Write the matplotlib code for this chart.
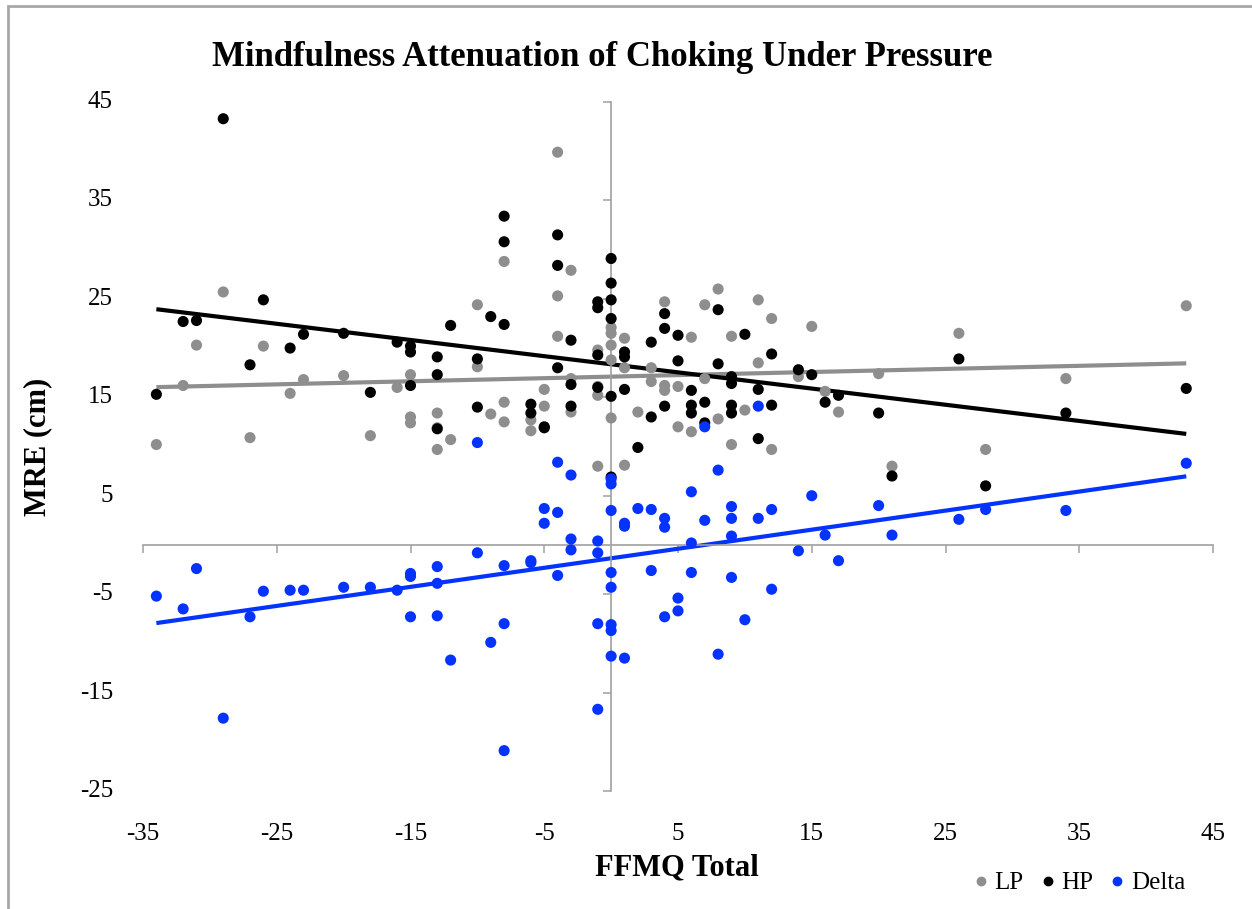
import numpy as np
import matplotlib
matplotlib.use("Agg")
import matplotlib.pyplot as plt
from matplotlib.patches import Rectangle
from matplotlib.lines import Line2D

plt.rcParams['font.family'] = ['Liberation Serif', 'DejaVu Serif']

# FFMQ total (centred) and MRE values
lp_x = [-34, -32, -31, -29, -27, -26, -24, -23, -20, -18, -16, -15, -15, -15, -13, -13, -13, -12,
        -10, -10, -9, -8, -8, -8, -6, -6, -5, -5, -4, -4, -4, -3, -3, -3, -1, -1, -1, -1,
        0, 0, 0, 0, 0, 1, 1, 1, 2, 3, 3, 4, 4, 4, 5, 5, 6, 6, 7, 7, 8, 8, 9, 9, 10,
        11, 11, 12, 12, 14, 15, 16, 17, 20, 21, 26, 28, 34, 43]
lp_y = [10.2, 16.2, 20.3, 25.7, 10.9, 20.2, 15.4, 16.8, 17.2, 11.1, 16.0, 17.3, 13.0, 12.4,
        13.4, 9.7, 11.9, 10.7, 24.4, 18.1, 13.3, 28.8, 14.5, 12.5, 12.7, 11.6, 15.8, 14.1,
        39.9, 25.3, 21.2, 27.9, 16.9, 13.5, 19.8, 16.1, 15.2, 8.0, 22.1, 21.5, 20.3, 18.8, 12.9,
        21.0, 18.0, 8.1, 13.5, 18.0, 16.6, 24.7, 16.2, 15.7, 16.1, 12.0, 21.1, 11.5, 24.4, 16.9,
        26.0, 12.8, 21.2, 10.2, 13.7, 24.9, 18.5, 23.0, 9.7, 17.1, 22.2, 15.6, 13.5, 17.4, 8.0,
        21.5, 9.7, 16.9, 24.3]

hp_x = [-34, -32, -31, -29, -27, -26, -24, -23, -20, -18, -16, -15, -15, -15, -13, -13, -13, -12,
        -10, -10, -9, -8, -8, -8, -6, -6, -5, -5, -4, -4, -4, -3, -3, -3, -1, -1, -1, -1,
        0, 0, 0, 0, 0, 0, 1, 1, 1, 2, 3, 3, 4, 4, 4, 5, 5, 6, 6, 6, 7, 7, 8, 8, 9, 9, 9, 9,
        10, 11, 11, 12, 12, 14, 15, 16, 17, 20, 21, 26, 28, 34, 43]
hp_y = [15.3, 22.7, 22.8, 43.3, 18.3, 24.9, 20.0, 21.4, 21.5, 15.5, 20.6, 20.2, 19.6, 16.2,
        19.1, 17.3, 11.8, 22.3, 18.9, 14.0, 23.2, 33.4, 30.8, 22.4, 14.3, 13.4, 12.0, 11.9,
        31.5, 28.4, 18.0, 20.8, 16.3, 14.1, 24.7, 24.1, 19.3, 16.0, 29.1, 26.6, 24.9, 23.0, 15.1, 6.9,
        19.6, 19.1, 15.8, 9.9, 20.6, 13.0, 23.5, 22.0, 14.1, 21.3, 18.7, 15.7, 14.2, 13.4, 14.5, 12.4,
        23.9, 18.4, 17.1, 16.4, 14.2, 13.4, 21.4, 15.8, 10.8, 19.4, 14.2, 17.8, 17.3, 14.5, 15.2,
        13.4, 7.0, 18.9, 6.0, 13.4, 15.9]

delta_x = [-34, -32, -31, -29, -27, -26, -24, -23, -20, -18, -16, -15, -15, -15, -13, -13, -13, -12,
           -10, -10, -9, -8, -8, -8, -6, -6, -5, -5, -4, -4, -4, -3, -3, -3, -1, -1, -1, -1,
           0, 0, 0, 0, 0, 0, 0, 0, 1, 1, 1, 2, 3, 3, 4, 4, 4, 5, 5, 6, 6, 6, 7, 7, 8, 8,
           9, 9, 9, 9, 10, 11, 11, 12, 12, 14, 15, 16, 17, 20, 21, 26, 28, 34, 43]
delta_y = [-5.2, -6.5, -2.4, -17.6, -7.3, -4.7, -4.6, -4.6, -4.3, -4.3, -4.6, -2.9, -3.2, -7.3,
           -2.2, -3.9, -7.2, -11.7, 10.4, -0.8, -9.9, -2.1, -8.0, -20.9, -1.6, -1.8, 3.7, 2.2,
           8.4, 3.3, -3.1, 7.1, 0.6, -0.5, 0.4, -0.8, -8.0, -16.7, 6.7, 6.2, 3.5, -2.8, -4.3, -8.1,
           -8.7, -11.3, 2.2, 1.9, -11.5, 3.7, 3.6, -2.6, 2.7, 1.8, -7.3, -5.4, -6.7, 5.4, 0.2, -2.8,
           12.0, 2.5, 7.6, -11.1, 3.9, 2.7, 0.9, -3.3, -7.6, 14.1, 2.7, 3.6, -4.5, -0.6, 5.0, 1.0,
           -1.6, 4.0, 1.0, 2.6, 3.6, 3.5, 8.3]

x_ticks = [-35, -25, -15, -5, 5, 15, 25, 35, 45]
y_ticks = [-25, -15, -5, 5, 15, 25, 35, 45]

series = [
    ("LP", lp_x, lp_y, "#8e8e8e"),
    ("HP", hp_x, hp_y, "#000000"),
    ("Delta", delta_x, delta_y, "#0433ff"),
]

W, H = 1252, 909
fig = plt.figure(figsize=(W / 100, H / 100), dpi=100)
ax = fig.add_axes([143 / W, 1 - 791 / H, 1070 / W, 689 / H])

handles = []
for name, xs, ys, col in series:
    xs = np.array(xs, dtype=float)
    ys = np.array(ys, dtype=float)
    ax.scatter(xs, ys, s=64, color=col, edgecolors='none', zorder=3)
    # linear trendline, like the spreadsheet one
    k, b = np.polyfit(xs, ys, 1)
    xl = np.array([xs.min(), xs.max()])
    ax.plot(xl, k * xl + b, color=col, lw=3, solid_capstyle='butt', zorder=2)
    handles.append(Line2D([], [], ls='none', marker='o', ms=6, color=col, label=name))

ax.set_xlim(-35, 45)
ax.set_ylim(-25, 45)

for side in ['top', 'right']:
    ax.spines[side].set_visible(False)
ax.spines['left'].set_position(('data', 0))
ax.spines['bottom'].set_position(('data', 0))
for side in ['left', 'bottom']:
    ax.spines[side].set_color('#a0a0a0')
    ax.spines[side].set_linewidth(1.2)
ax.set_xticks(x_ticks)
ax.set_yticks(y_ticks)
ax.tick_params(direction='out', length=6, width=1.1, color='#a0a0a0',
               labelleft=False, labelbottom=False)

# tick labels sit at the edges of the plot area, not on the zero lines
for v in y_ticks:
    ax.annotate(str(v), xy=(0, v), xycoords=('axes fraction', 'data'),
                xytext=(-30, 0), textcoords='offset pixels',
                ha='right', va='center', fontsize=18)
for v in x_ticks:
    ax.annotate(str(v), xy=(v, 0), xycoords=('data', 'axes fraction'),
                xytext=(0, -43), textcoords='offset pixels',
                ha='center', va='center', fontsize=18)

fig.text(602 / W, 1 - 58 / H, "Mindfulness Attenuation of Choking Under Pressure",
         ha='center', va='center', fontsize=25, fontweight='bold')
fig.text(677 / W, 1 - 868 / H, "FFMQ Total", ha='center', va='center',
         fontsize=22, fontweight='bold')
fig.text(38 / W, 1 - 447 / H, "MRE (cm)", ha='center', va='center', rotation=90,
         fontsize=22, fontweight='bold')

fig.legend(handles=handles, loc='center', bbox_to_anchor=(1078 / W, 1 - 883 / H),
           ncol=3, frameon=False, fontsize=18, handletextpad=0.15,
           columnspacing=0.55, handlelength=0.8)

# outer chart border (cut off at the right and bottom in the reference)
fig.patches.append(Rectangle((8 / W, -0.1), 1.2, 1.1 - 6 / H, transform=fig.transFigure,
                             fill=False, edgecolor='#a8a8a8', lw=2))

fig.savefig("out.png", dpi=100)
